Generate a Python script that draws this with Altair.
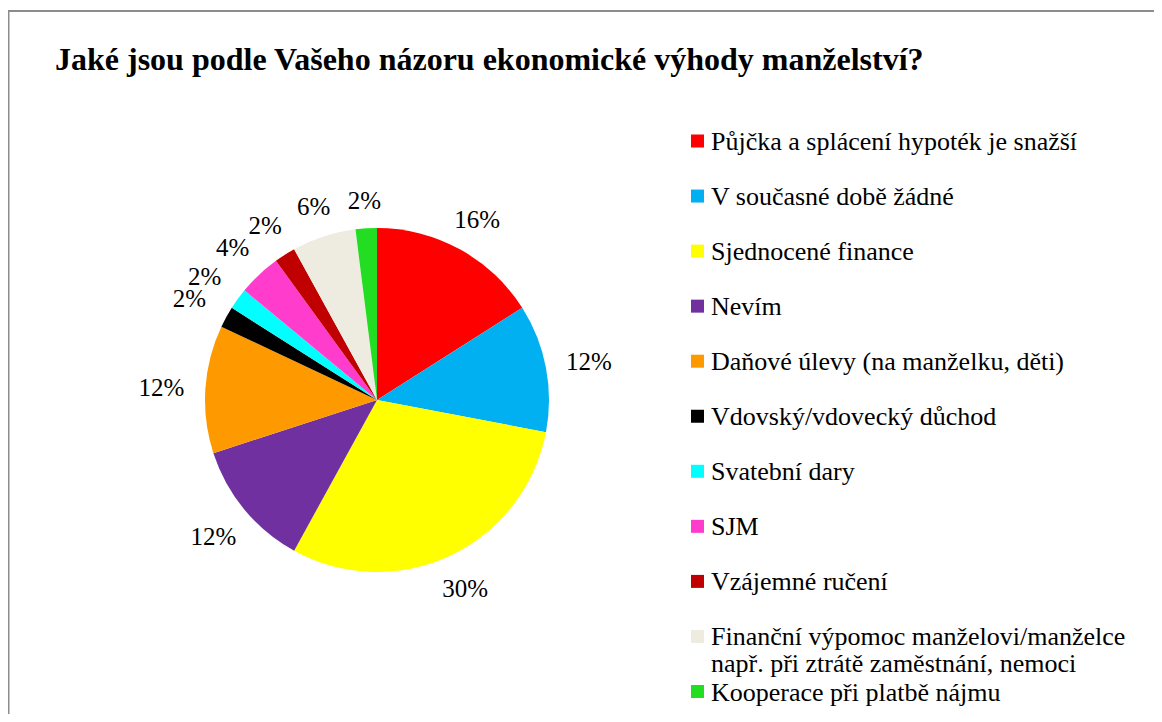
import altair as alt
import pandas as pd

categories = [
    "Půjčka a splácení hypoték je snažší",
    "V současné době žádné",
    "Sjednocené finance",
    "Nevím",
    "Daňové úlevy (na manželku, děti)",
    "Vdovský/vdovecký důchod",
    "Svatební dary",
    "SJM",
    "Vzájemné ručení",
    "Finanční výpomoc manželovi/manželce např. při ztrátě zaměstnání, nemoci",
    "Kooperace při platbě nájmu",
]
legend_labels = [
    "Půjčka a splácení hypoték je snažší",
    "V současné době žádné",
    "Sjednocené finance",
    "Nevím",
    "Daňové úlevy (na manželku, děti)",
    "Vdovský/vdovecký důchod",
    "Svatební dary",
    "SJM",
    "Vzájemné ručení",
    "Finanční výpomoc manželovi/manželce\nnapř. při ztrátě zaměstnání, nemoci",
    "Kooperace při platbě nájmu",
]
values = [16, 12, 30, 12, 12, 2, 2, 4, 2, 6, 2]
colors = ["#FF0000", "#00B0F0", "#FFFF00", "#7030A0", "#FF9900", "#000000",
          "#00FFFF", "#FF3CCB", "#C00000", "#EEECE1", "#22DD22"]
title_text = "Jaké jsou podle Vašeho názoru ekonomické výhody manželství?"

df = pd.DataFrame({
    "cat": categories,
    "legend": legend_labels,
    "value": values,
    "idx": list(range(len(categories))),
})
df["label"] = df["value"].astype(str) + "%"

SERIF = "'Liberation Serif', 'Times New Roman', 'DejaVu Serif', serif"
W, H = 1146, 706
CX, CY = 369, 392

color = alt.Color("cat:N", scale=alt.Scale(domain=categories, range=colors), legend=None)

pie = alt.Chart(df).mark_arc(outerRadius=172).encode(
    theta=alt.Theta("value:Q", stack=True),
    order=alt.Order("idx:Q"),
    color=color, x=alt.value(CX), y=alt.value(CY),
)

# labels at each slice's mid-angle; distance grows on the sides (wide labels)
pct = alt.Chart(df).transform_window(
    cum="sum(value)", sort=[alt.SortField("idx")]
).transform_joinaggregate(
    total="sum(value)"
).transform_calculate(
    mid="2 * PI * (datum.cum - datum.value / 2) / datum.total"
).transform_calculate(
    lr="200 + 16 * abs(sin(datum.mid))"
).mark_text(font=SERIF, fontSize=25, color="black", dy=2).encode(
    text="label:N", x=alt.value(CX), y=alt.value(CY),
    theta=alt.Theta("mid:Q", scale=None, stack=None),
    radius=alt.Radius("lr:Q", scale=None),
)

leg = alt.Chart(df).encode(
    y=alt.Y("idx:Q", scale=alt.Scale(domain=[0, 10], range=[133, 683.5]), axis=None)
)
leg_sym = leg.mark_square(size=169, opacity=1).encode(x=alt.value(689.5), color=color)
leg_txt = leg.mark_text(
    align="left", baseline="alphabetic", dy=9, font=SERIF, fontSize=26,
    lineBreak="\n", lineHeight=27, color="black"
).encode(x=alt.value(703), text="legend:N")

one = pd.DataFrame({"a": [0]})
frame_top = alt.Chart(one).mark_rule(color="#8C8C8C", strokeWidth=2).encode(
    x=alt.value(0), x2=alt.value(W), y=alt.value(3)
)
frame_left = alt.Chart(one).mark_rule(color="#8C8C8C", strokeWidth=2).encode(
    x=alt.value(0.5), y=alt.value(3), y2=alt.value(H)
)

chart = alt.layer(frame_top, frame_left, pie, pct, leg_sym, leg_txt).resolve_scale(
    theta="independent"
).properties(
    width=W, height=H,
    autosize=alt.AutoSizeParams(type="none"),
    padding=0,
    title=alt.TitleParams(
        title_text, anchor="start", font=SERIF, fontSize=32, fontWeight="bold",
        color="black", offset=0, baseline="alphabetic", dy=94, dx=47, frame="group"
    ),
).configure_view(stroke=None)

chart.save("out.html", embed_options={"renderer": "svg", "actions": False})
